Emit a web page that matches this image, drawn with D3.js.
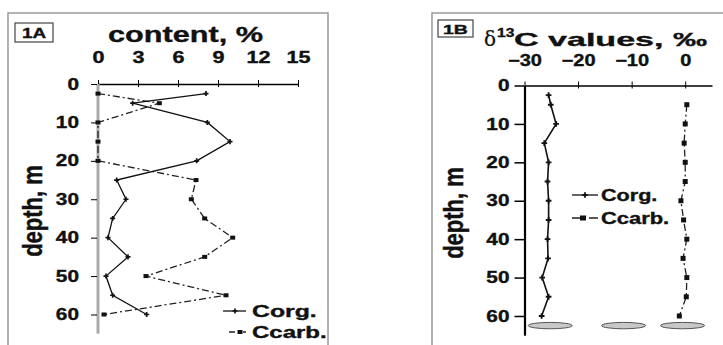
<!DOCTYPE html>
<html>
<head>
<meta charset="utf-8">
<script src="https://cdn.jsdelivr.net/npm/d3@7"></script>
<style>
  body { margin: 0; background: #fff; }
  svg { display: block; font-family: "Liberation Sans", Arial, sans-serif; font-weight: bold; }
  svg text { fill: #111; stroke: #111; stroke-width: 0.35px; }
</style>
</head>
<body>
<div id="chart"></div>
<script>
// panel A: content, %
var depthA = [2.5, 5, 10, 15, 20, 25, 30, 35, 40, 45, 50, 55, 60];
var corgA  = [8.1, 2.6, 8.2, 9.9, 7.4, 1.4, 2.1, 1.1, 0.75, 2.25, 0.6, 1.1, 3.65];
var ccarbA = [0, 4.6, 0, 0, 0, 7.35, 7.0, 8.0, 10.1, 8.0, 3.6, 9.6, 0.45];
var ticksA = [0, 3, 6, 9, 12, 15];

// panel B: d13C values, permil
var depthCorgB = [2.5, 5, 10, 15, 20, 25, 30, 35, 40, 45, 50, 55, 60];
var corgB = [-25.5, -25.1, -24.1, -26.3, -25.5, -25.7, -25.5, -25.5, -25.7, -25.6, -26.7, -25.5, -26.8];
var depthCarbB = [5, 10, 15, 20, 25, 30, 35, 40, 45, 50, 55, 60];
var ccarbB = [0.3, 0, -0.2, 0, 0, -0.8, -0.3, 0.3, -0.4, 0.3, 0.2, -1.1];
var ticksB = [-30, -20, -10, 0];
var lensB = [-25.2, -11.5, -0.5];   // grey lenses at the bottom of panel B
var lensDepth = 62.5;

var depthTicks = [0, 10, 20, 30, 40, 50, 60];

var width = 723, height = 345;
var svg = d3.select("#chart").append("svg")
    .attr("width", width)
    .attr("height", height);

// stretch text horizontally, the scan is wider than tall
function stretch(sel, k) {
    sel.each(function () {
        var t = d3.select(this);
        var x = +t.attr("x") || 0, y = +t.attr("y") || 0;
        t.attr("x", 0).attr("y", 0)
            .attr("transform", "translate(" + x + "," + y + ") scale(" + k + ",1)");
    });
}

function points(xs, ys) {
    return xs.map((d, i) => [d, ys[i]]);
}

// ---------- panel A ----------
svg.append("rect")
    .attr("x", 8).attr("y", 13).attr("width", 320).attr("height", 340)
    .attr("fill", "none").attr("stroke", "#9a9a9a").attr("stroke-width", 1.5);

svg.append("rect")
    .attr("x", 15).attr("y", 23).attr("width", 38).attr("height", 19)
    .attr("fill", "none").attr("stroke", "#444").attr("stroke-width", 1.2);
svg.append("text").text("1A")
    .attr("x", 34).attr("y", 38).attr("text-anchor", "middle")
    .style("font-size", "14px").call(stretch, 1.35);

svg.append("text").text("content, %")
    .attr("x", 108).attr("y", 42)
    .attr("textLength", 155).attr("lengthAdjust", "spacingAndGlyphs")
    .style("font-size", "22px");

var xA = d3.scaleLinear().domain([0, 15]).range([98, 298]);
var yA = d3.scaleLinear().domain([0, 65]).range([84, 333.7]);

var axTopA = svg.append("g")
    .attr("transform", "translate(0," + yA(0) + ")")
    .call(d3.axisTop(xA).tickValues(ticksA).tickSize(4).tickPadding(17).tickSizeOuter(0));
axTopA.select(".domain").attr("stroke-width", 1.5);
axTopA.selectAll(".tick line").attr("y1", 3).attr("y2", -4);
axTopA.selectAll("text").style("font-size", "16px").call(stretch, 1.35);

// grey depth axis
svg.append("line")
    .attr("x1", xA(0)).attr("x2", xA(0))
    .attr("y1", yA(0)).attr("y2", yA(65))
    .attr("stroke", "#aaa").attr("stroke-width", 3);

var axLeftA = svg.append("g")
    .attr("transform", "translate(" + (xA(0) - 1) + ",0)")
    .call(d3.axisLeft(yA).tickValues(depthTicks).tickSize(6).tickPadding(12));
axLeftA.select(".domain").remove();
axLeftA.selectAll("text").style("font-size", "16px").call(stretch, 1.3);

svg.append("text").text("depth, m")
    .attr("transform", "translate(42,211) rotate(-90) scale(1,1.25)")
    .attr("text-anchor", "middle")
    .style("font-size", "22px");

var lineA = d3.line().x(d => xA(d[0])).y(d => yA(d[1]));

svg.append("path")
    .datum(points(ccarbA, depthA))
    .attr("d", lineA)
    .attr("fill", "none").attr("stroke", "#222").attr("stroke-width", 1.3)
    .attr("stroke-dasharray", "7,3,2,3");
svg.append("path")
    .datum(points(corgA, depthA))
    .attr("d", lineA)
    .attr("fill", "none").attr("stroke", "#111").attr("stroke-width", 1.3);

svg.selectAll(".mcA")
    .data(points(ccarbA, depthA))
    .enter().append("rect")
    .attr("x", d => xA(d[0]) - 2.5).attr("y", d => yA(d[1]) - 2)
    .attr("width", 5).attr("height", 4).attr("fill", "#111");
svg.selectAll(".moA")
    .data(points(corgA, depthA))
    .enter().append("path")
    .attr("transform", d => "translate(" + xA(d[0]) + "," + yA(d[1]) + ")")
    .attr("d", d3.symbol(d3.symbolCross, 14))
    .attr("fill", "#111");

// legend A
svg.append("line").attr("x1", 223).attr("x2", 246).attr("y1", 311).attr("y2", 311)
    .attr("stroke", "#111").attr("stroke-width", 1.3);
svg.append("path").attr("transform", "translate(235,311)")
    .attr("d", d3.symbol(d3.symbolCross, 14)).attr("fill", "#111");
svg.append("text").text("Corg.").attr("x", 252).attr("y", 317)
    .style("font-size", "16px").call(stretch, 1.55);
svg.append("line").attr("x1", 229).attr("x2", 246).attr("y1", 332).attr("y2", 332)
    .attr("stroke", "#222").attr("stroke-width", 1.3).attr("stroke-dasharray", "6,3,2,3");
svg.append("rect").attr("x", 237.5).attr("y", 330).attr("width", 5).attr("height", 4).attr("fill", "#111");
svg.append("text").text("Ccarb.").attr("x", 252).attr("y", 338)
    .style("font-size", "16px").call(stretch, 1.5);

// ---------- panel B ----------
svg.append("rect")
    .attr("x", 432).attr("y", 13).attr("width", 300).attr("height", 340)
    .attr("fill", "none").attr("stroke", "#9a9a9a").attr("stroke-width", 1.5);

svg.append("rect")
    .attr("x", 438).attr("y", 20).attr("width", 35).attr("height", 17)
    .attr("fill", "none").attr("stroke", "#444").attr("stroke-width", 1.2);
svg.append("text").text("1B")
    .attr("x", 455.5).attr("y", 34).attr("text-anchor", "middle")
    .style("font-size", "13px").call(stretch, 1.5);

svg.append("text").text("\u03b4")
    .attr("x", 484).attr("y", 46)
    .style("font-family", "'DejaVu Serif', serif").style("font-weight", "normal")
    .style("stroke-width", "0.2px")
    .style("font-size", "20px");
svg.append("text").text("13")
    .attr("x", 497).attr("y", 37)
    .style("font-size", "12px").call(stretch, 1.3);
svg.append("text").text("C values, \u2030")
    .attr("x", 514).attr("y", 46)
    .attr("textLength", 193).attr("lengthAdjust", "spacingAndGlyphs")
    .style("font-size", "19px");

var xB = d3.scaleLinear().domain([-30, 5]).range([524.5, 712]);
var yB = d3.scaleLinear().domain([0, 65]).range([85.5, 335.2]);

var axTopB = svg.append("g")
    .attr("transform", "translate(0," + yB(0) + ")")
    .call(d3.axisTop(xB).tickValues(ticksB).tickSize(4).tickPadding(16).tickSizeOuter(0));
axTopB.select(".domain").attr("stroke-width", 1.5);
axTopB.selectAll(".tick line").attr("y1", 3).attr("y2", -4);
axTopB.selectAll("text").style("font-size", "16px").call(stretch, 1.25);

var axLeftB = svg.append("g")
    .attr("transform", "translate(" + xB(-30) + ",0)")
    .call(d3.axisLeft(yB).tickValues(depthTicks).tickSize(10).tickPadding(5).tickSizeOuter(0));
axLeftB.select(".domain").attr("stroke-width", 2.2);
axLeftB.selectAll(".tick line").attr("stroke-width", 1.5);
axLeftB.selectAll("text").style("font-size", "16px").call(stretch, 1.3);

svg.append("text").text("depth, m")
    .attr("transform", "translate(463,213) rotate(-90) scale(1,1.25)")
    .attr("text-anchor", "middle")
    .style("font-size", "22px");

var lineB = d3.line().x(d => xB(d[0])).y(d => yB(d[1]));

// grey lenses near the bottom
svg.selectAll(".lens")
    .data(lensB)
    .enter().append("ellipse")
    .attr("cx", d => xB(d)).attr("cy", yB(lensDepth))
    .attr("rx", 22).attr("ry", 3.2)
    .attr("fill", "#c8c8c8").attr("stroke", "#555").attr("stroke-width", 1);

svg.append("path")
    .datum(points(ccarbB, depthCarbB))
    .attr("d", lineB)
    .attr("fill", "none").attr("stroke", "#222").attr("stroke-width", 1.3)
    .attr("stroke-dasharray", "7,3,2,3");
svg.append("path")
    .datum(points(corgB, depthCorgB))
    .attr("d", lineB)
    .attr("fill", "none").attr("stroke", "#111").attr("stroke-width", 1.6);

svg.selectAll(".mcB")
    .data(points(ccarbB, depthCarbB))
    .enter().append("rect")
    .attr("x", d => xB(d[0]) - 2.5).attr("y", d => yB(d[1]) - 2.5)
    .attr("width", 5).attr("height", 5).attr("fill", "#111");
svg.selectAll(".moB")
    .data(points(corgB, depthCorgB))
    .enter().append("path")
    .attr("transform", d => "translate(" + xB(d[0]) + "," + yB(d[1]) + ")")
    .attr("d", d3.symbol(d3.symbolCross, 18))
    .attr("fill", "#111");

// legend B
svg.append("line").attr("x1", 572).attr("x2", 598).attr("y1", 195).attr("y2", 195)
    .attr("stroke", "#111").attr("stroke-width", 1.3);
svg.append("path").attr("transform", "translate(585,195)")
    .attr("d", d3.symbol(d3.symbolCross, 16)).attr("fill", "#111");
svg.append("text").text("Corg.").attr("x", 601).attr("y", 201)
    .style("font-size", "16px").call(stretch, 1.35);
svg.append("line").attr("x1", 572).attr("x2", 598).attr("y1", 218).attr("y2", 218)
    .attr("stroke", "#222").attr("stroke-width", 1.3).attr("stroke-dasharray", "9,3,2,3");
svg.append("rect").attr("x", 580).attr("y", 215.5).attr("width", 6).attr("height", 5).attr("fill", "#111");
svg.append("text").text("Ccarb.").attr("x", 601).attr("y", 224)
    .style("font-size", "16px").call(stretch, 1.37);
</script>
</body>
</html>
